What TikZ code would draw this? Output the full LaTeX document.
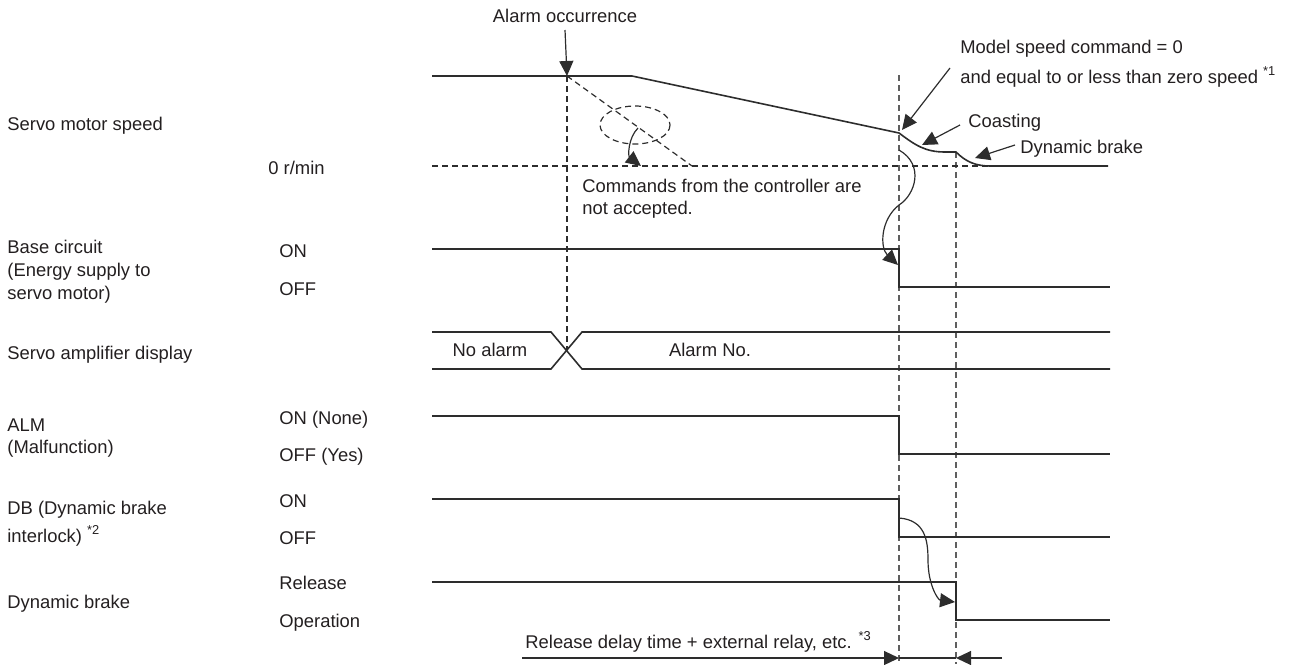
\documentclass[tikz,border=0pt]{standalone}
\usepackage{fontspec}
\setmainfont{Liberation Sans}
\usetikzlibrary{arrows.meta}

\definecolor{colorlinea}{RGB}{45,45,45}
\definecolor{colortexto}{RGB}{35,31,32}
\definecolor{colorguia}{RGB}{95,95,95}

\begin{document}
\begin{tikzpicture}[line join=miter, x=0.5pt, y=-0.5pt,
    senal/.style={line width=0.8pt, color=colorlinea},
    guia/.style={line width=0.6pt, color=colorlinea, dash pattern=on 3pt off 2pt},
    guiagris/.style={line width=0.7pt, color=colorguia, dash pattern=on 3pt off 2pt},
    flecha/.style={line width=0.6pt, color=colorlinea, -{Triangle[length=7.5pt,width=7pt]}},
    etiq/.style={anchor=base west, inner sep=0pt, text=colortexto, font=\fontsize{9.2}{11}\selectfont},
    etiqc/.style={etiq, anchor=base}]

    % Ventana de dibujo
    \useasboundingbox (0,0) rectangle (1289,664);

    % Instantes: alarma, parada del modelo, freno dinamico
    \coordinate (tA) at (567,76);
    \coordinate (tB) at (899,133);
    \coordinate (tC) at (956,152);
    \coordinate (tD) at (990,166);

    % Etiquetas de la izquierda
    \node[etiq] (lblVel) at (7,130) {Servo motor speed};
    \node[etiq] (lblBase1) at (7,253) {Base circuit};
    \node[etiq] (lblBase2) at (7,276) {(Energy supply to};
    \node[etiq] (lblBase3) at (7,299) {servo motor)};
    \node[etiq] (lblDisp) at (7,359) {Servo amplifier display};
    \node[etiq] (lblALM1) at (7,431) {ALM};
    \node[etiq] (lblALM2) at (7,453) {(Malfunction)};
    \node[etiq] (lblDB1) at (7,514) {DB (Dynamic brake};
    \node[etiq] (lblDB2) at (7,542) {interlock) \textsuperscript{*2}};
    \node[etiq] (lblFreno) at (7,608) {Dynamic brake};

    % Niveles de cada senal
    \node[etiq] (nivCero) at (268,174) {0 r/min};
    \node[etiq] (nivBaseOn) at (279,257) {ON};
    \node[etiq] (nivBaseOff) at (279,295) {OFF};
    \node[etiq] (nivALMOn) at (279,424) {ON (None)};
    \node[etiq] (nivALMOff) at (279,461) {OFF (Yes)};
    \node[etiq] (nivDBOn) at (279,507) {ON};
    \node[etiq] (nivDBOff) at (279,544) {OFF};
    \node[etiq] (nivRel) at (279,589) {Release};
    \node[etiq] (nivOper) at (279,627) {Operation};

    % Lineas guia verticales
    \draw[guia] (tA) -- (567,350);
    \draw[guiagris] (899,75) -- (899,664);
    \draw[guiagris] (tC) -- (956,664);

    % Velocidad del servomotor
    \draw[guia] (432,166) -- (tD);
    \draw[guia] (tA) -- (692,166);
    \draw[guia] (635,125) ellipse [x radius=35, y radius=19];
    \draw[senal] (432,76) -- (tA) -- (632,76) -- (tB)
        .. controls (915,145) and (925,152) .. (945,152) -- (tC)
        .. controls (966,162) and (976,166) .. (tD) -- (1108,166);

    % Circuito base
    \draw[senal] (432,249) -- (899,249) -- (899,287) -- (1110,287);

    % Display del amplificador
    \draw[senal] (432,332) -- (551,332) -- (582,369) -- (1110,369);
    \draw[senal] (432,369) -- (551,369) -- (582,332) -- (1110,332);
    \node[etiqc] (txtNoAlarma) at (490,356) {No alarm};
    \node[etiqc] (txtAlarma) at (710,356) {Alarm No.};

    % ALM
    \draw[senal] (432,416) -- (899,416) -- (899,454) -- (1110,454);

    % DB
    \draw[senal] (432,499) -- (899,499) -- (899,537) -- (1110,537);

    % Freno dinamico
    \draw[senal] (432,582) -- (956,582) -- (956,620) -- (1110,620);

    % Textos y flechas de anotacion
    \node[etiqc] (txtOcurre) at (565,22) {Alarm occurrence};
    \draw[flecha] (txtOcurre.south |- 0,30) -- (tA);

    \node[etiq] (txtModelo1) at (960,53) {Model speed command = 0};
    \node[etiq] (txtModelo2) at (960,83) {and equal to or less than zero speed \textsuperscript{*1}};
    \draw[flecha] (950,68) -- (902,130);

    \node[etiq] (txtInercia) at (968,127) {Coasting};
    \draw[flecha] (960,125) -- (922,145);

    \node[etiq] (txtFreno) at (1020,153) {Dynamic brake};
    \draw[flecha] (1015,145) -- (975,158);

    \node[etiq] (txtCmd1) at (582,192) {Commands from the controller are};
    \node[etiq] (txtCmd2) at (582,214) {not accepted.};
    \draw[flecha] (638,128) .. controls (628,138) and (628,156) .. (641,166);

    % Flechas de causa entre senales
    \draw[flecha] (899,150) .. controls (925,165) and (915,195) .. (899,205)
        .. controls (880,220) and (880,248) .. (898,265);
    \draw[flecha] (899,518) .. controls (925,520) and (928,540) .. (928,560)
        .. controls (928,585) and (938,600) .. (955,602);

    % Tiempo de retardo
    \node[etiq] (txtRetardo) at (525,648) {Release delay time + external relay, etc. \textsuperscript{*3}};
    \draw[flecha] (522,658) -- (899,658);
    \draw[senal] (899,658) -- (956,658);
    \draw[flecha] (1002,658) -- (956,658);

\end{tikzpicture}
\end{document}
